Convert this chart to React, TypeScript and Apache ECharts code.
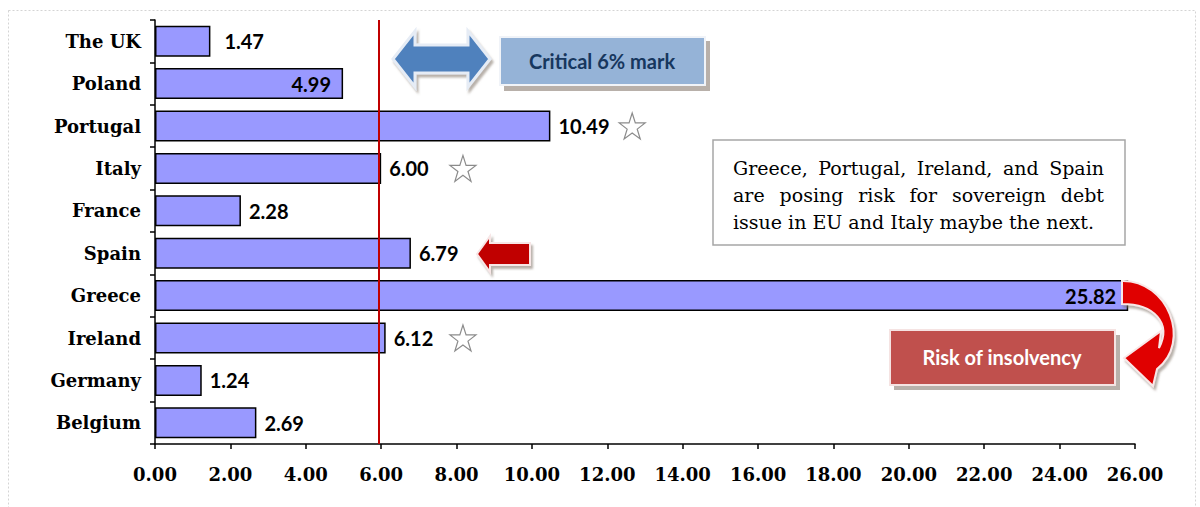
import React, { useEffect, useRef } from "react";
import * as echarts from "echarts";

// ---- data ----
const categories = ["Belgium", "Germany", "Ireland", "Greece", "Spain", "France", "Italy", "Portugal", "Poland", "The UK"];
const values = [2.69, 1.24, 6.12, 25.82, 6.79, 2.28, 6.0, 10.49, 4.99, 1.47];
const insideLabelCats = ["Poland", "Greece"];
const wideLabelCats = ["The UK"];
const criticalMark = 5.93;
const starPoints: [number, string][] = [
  [12.66, "Portugal"],
  [8.17, "Italy"],
  [8.17, "Ireland"],
];
const xMin = 0;
const xMax = 26;
const xInterval = 2;
const noteLines = [
  "Greece, Portugal, Ireland, and Spain",
  "are posing risk for sovereign debt",
  "issue in EU and Italy maybe the next.",
];
const criticalText = "Critical 6% mark";
const riskText = "Risk of insolvency";

// ---- shapes ----
const curvedArrowD =
  "M1122,281 C1168,280 1192,342 1157,369 L1153,386 L1124,358 L1161,331 L1159,348 C1172,323 1154,304 1122,304 Z";
echarts.graphic.registerShape("curvedArrow", echarts.graphic.extendPath(curvedArrowD, {}) as any);

const STAR =
  "path://M50,2 L61.8,37.6 L99,37.6 L69,59.6 L80.4,95 L50,73.2 L19.6,95 L31,59.6 L1,37.6 L38.2,37.6 Z";

function measure(text: string, font: string): number {
  const c = document.createElement("canvas").getContext("2d");
  if (!c) return text.length * 10;
  c.font = font;
  return c.measureText(text).width;
}

function buildNote(): any[] {
  const fontSize = 19;
  const fontFamily = "DejaVu Serif";
  const font = `${fontSize}px '${fontFamily}'`;
  const left = 733;
  const right = 1104;
  const ys = [168, 195, 222];
  const els: any[] = [];
  noteLines.forEach((line, i) => {
    if (i < noteLines.length - 1) {
      const words = line.split(" ");
      const widths = words.map((w) => measure(w, font));
      const total = widths.reduce((a, b) => a + b, 0);
      const gap = (right - left - total) / (words.length - 1);
      let x = left;
      words.forEach((w, j) => {
        els.push({
          type: "text",
          x,
          y: ys[i],
          z: 101,
          style: { text: w, fill: "#000", font, verticalAlign: "middle", align: "left" },
        });
        x += widths[j] + gap;
      });
    } else {
      els.push({
        type: "text",
        x: left,
        y: ys[i],
        z: 101,
        style: { text: line, fill: "#000", font, verticalAlign: "middle", align: "left" },
      });
    }
  });
  return els;
}

export default function App() {
  const ref = useRef<HTMLDivElement>(null);

  useEffect(() => {
    if (!ref.current) return;
    const chart = echarts.init(ref.current, undefined, { renderer: "svg" });

    const barData = categories.map((c, i) => {
      const item: any = { value: values[i] };
      if (insideLabelCats.includes(c)) {
        item.label = { position: "insideRight", distance: 12 };
      } else if (wideLabelCats.includes(c)) {
        item.label = { position: "right", distance: 14 };
      }
      return item;
    });

    const shadowColor = "rgba(125,112,100,0.55)";

    const graphics: any[] = [
      // frame
      {
        type: "rect",
        z: 0,
        shape: { x: 8.5, y: 10.5, width: 1187, height: 520 },
        style: { fill: "none", stroke: "#D4D4D4", lineWidth: 1, lineDash: [2, 2] },
      },
      // double arrow
      {
        type: "polygon",
        z: 100,
        shape: {
          points: [
            [393, 59], [415, 31], [415, 45], [468, 45], [468, 31],
            [490, 59], [468, 87], [468, 73], [415, 73], [415, 87],
          ],
        },
        style: {
          fill: "#4F81BD",
          stroke: "#E6ECF5",
          lineWidth: 3,
          shadowBlur: 2,
          shadowOffsetX: 2,
          shadowOffsetY: 3,
          shadowColor,
        },
      },
      // critical box shadow + box
      {
        type: "rect",
        z: 99,
        shape: { x: 504, y: 41, width: 206, height: 50 },
        style: { fill: shadowColor },
      },
      {
        type: "rect",
        z: 100,
        shape: { x: 500, y: 37, width: 205, height: 48 },
        style: { fill: "#95B3D7", stroke: "#F0F3F8", lineWidth: 2 },
      },
      {
        type: "text",
        z: 101,
        x: 602,
        y: 61,
        style: {
          text: criticalText,
          fill: "#17375E",
          font: "bold 20px Lato",
          align: "center",
          verticalAlign: "middle",
        },
      },
      // note box
      {
        type: "rect",
        z: 100,
        shape: { x: 713, y: 140, width: 412, height: 105 },
        style: { fill: "#fff", stroke: "#A6A6A6", lineWidth: 1.5 },
      },
      ...buildNote(),
      // red left arrow near Spain
      {
        type: "polygon",
        z: 100,
        shape: {
          points: [[477, 254], [490, 236], [490, 243], [530, 243], [530, 265], [490, 265], [490, 272]],
        },
        style: {
          fill: "#C00000",
          stroke: "#F7E6E6",
          lineWidth: 2,
          shadowBlur: 2,
          shadowOffsetX: 2,
          shadowOffsetY: 3,
          shadowColor,
        },
      },
      // risk box shadow + box
      {
        type: "rect",
        z: 99,
        shape: { x: 894, y: 335, width: 226, height: 55 },
        style: { fill: shadowColor },
      },
      {
        type: "rect",
        z: 100,
        shape: { x: 890, y: 330, width: 225, height: 55 },
        style: { fill: "#C0504D", stroke: "#F5E3E2", lineWidth: 2 },
      },
      {
        type: "text",
        z: 101,
        x: 1002,
        y: 357,
        style: {
          text: riskText,
          fill: "#fff",
          font: "bold 20px Lato",
          align: "center",
          verticalAlign: "middle",
        },
      },
      // curved arrow
      {
        type: "curvedArrow",
        z: 102,
        x: 0,
        y: 0,
        scaleX: 1,
        scaleY: 1,
        style: {
          fill: "#E00000",
          stroke: "#F8E8E8",
          lineWidth: 2,
          shadowBlur: 2,
          shadowOffsetX: 2,
          shadowOffsetY: 3,
          shadowColor,
        },
      },
    ];

    const option: any = {
      animation: false,
      grid: { left: 155, right: 65, top: 20, bottom: 63, containLabel: false },
      xAxis: {
        type: "value",
        min: xMin,
        max: xMax,
        interval: xInterval,
        axisLine: { show: true, lineStyle: { color: "#000", width: 1.5 } },
        axisTick: { show: true, length: 5, lineStyle: { color: "#000", width: 1.5 } },
        splitLine: { show: false },
        axisLabel: {
          formatter: (v: number) => v.toFixed(2),
          color: "#000",
          fontFamily: "DejaVu Serif",
          fontWeight: "bold",
          fontSize: 18,
          margin: 21,
        },
      },
      yAxis: {
        type: "category",
        data: categories,
        axisLine: { show: true, lineStyle: { color: "#000", width: 1.5 } },
        axisTick: { show: true, length: 5, lineStyle: { color: "#000", width: 1.5 } },
        axisLabel: {
          color: "#000",
          fontFamily: "DejaVu Serif",
          fontWeight: "bold",
          fontSize: 18,
          margin: 14,
        },
      },
      series: [
        {
          type: "bar",
          data: barData,
          barWidth: "73%",
          itemStyle: { color: "#9999FF", borderColor: "#000", borderWidth: 1.5 },
          label: {
            show: true,
            position: "right",
            distance: 8,
            formatter: (p: any) => Number(p.value).toFixed(2),
            fontFamily: "Lato",
            fontWeight: "bold",
            fontSize: 20,
            color: "#000",
          },
          markLine: {
            silent: true,
            symbol: ["none", "none"],
            label: { show: false },
            lineStyle: { color: "#C00000", width: 2, type: "solid" },
            data: [{ xAxis: criticalMark }],
          },
        },
        {
          type: "scatter",
          data: starPoints,
          symbol: STAR,
          symbolSize: 26,
          z: 5,
          itemStyle: { color: "#fff", borderColor: "#6E6E6E", borderWidth: 1.2 },
        },
      ],
      graphic: graphics,
    };

    chart.setOption(option);
    return () => chart.dispose();
  }, []);

  return (
    <div
      ref={ref}
      style={{ position: "fixed", left: 0, top: 0, width: 1200, height: 507, background: "#fff" }}
    />
  );
}
